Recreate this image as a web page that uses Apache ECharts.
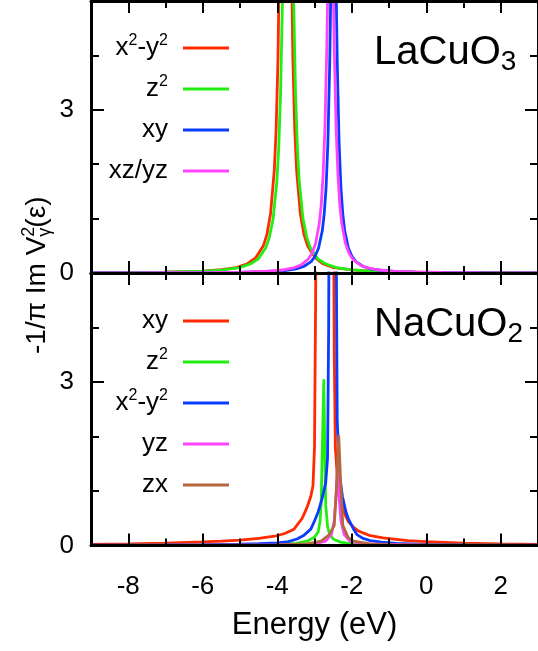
<!DOCTYPE html>
<html>
<head>
<meta charset="utf-8">
<script src="https://cdn.jsdelivr.net/npm/echarts@6/dist/echarts.min.js"></script>
<style>
  html, body { margin: 0; padding: 0; background: #ffffff; }
  #chart { width: 538px; height: 651px; }
</style>
</head>
<body>
<div id="chart"></div>
<script>
// Hybridization spectra -1/pi Im V^2(e) per d orbital, two compounds stacked.
const FONT = '"Liberation Sans", Arial, Helvetica, sans-serif';

// Tick positions (eV and spectral weight)
const xMajorTicks = [-8, -6, -4, -2, 0, 2];
const xMinorTicks = [-7, -5, -3, -1, 1];
const yMajorTicks = [0, 3];
const yMinorTicks = [1, 2, 4];

// LaCuO3 panel: [energy (eV), value]
const laX2y2 = [[-9,0.007],[-8,0.01],[-7,0.017],[-6,0.036],[-5.5,0.06],[-5.1,0.1],[-4.8,0.17],[-4.58,0.28],[-4.38,0.49],[-4.28,0.7],[-4.18,1.09],[-4.08,1.88],[-4.03,2.64],[-3.98,3.95],[-3.93,6.4],[-3.88,11.5],[-3.83,22.2],[-3.78,32],[-3.73,22.2],[-3.68,11.5],[-3.63,6.4],[-3.58,3.95],[-3.53,2.64],[-3.48,1.88],[-3.38,1.09],[-3.28,0.7],[-3.18,0.49],[-2.98,0.28],[-2.78,0.17],[-2.48,0.1],[-2,0.056],[-1.5,0.034],[-1,0.023],[0,0.012],[1,0.008],[2,0.005],[3,0.004]];
const laZ2 = [[-9,0.006],[-8,0.009],[-7,0.016],[-6,0.033],[-5.5,0.053],[-5.01,0.1],[-4.71,0.17],[-4.51,0.26],[-4.31,0.46],[-4.21,0.66],[-4.11,1.0],[-4.01,1.69],[-3.96,2.31],[-3.91,3.32],[-3.86,5.02],[-3.81,7.91],[-3.76,12.1],[-3.71,14.7],[-3.66,12.1],[-3.61,7.91],[-3.56,5.02],[-3.51,3.32],[-3.46,2.31],[-3.41,1.69],[-3.31,1.0],[-3.21,0.66],[-3.11,0.46],[-2.91,0.26],[-2.71,0.17],[-2.41,0.1],[-2,0.058],[-1.5,0.035],[-1,0.023],[0,0.012],[1,0.008],[2,0.005],[3,0.004]];
const laXy = [[-9,0.002],[-8,0.003],[-7,0.004],[-6,0.006],[-5,0.012],[-4.19,0.027],[-3.79,0.046],[-3.49,0.077],[-3.29,0.12],[-3.09,0.21],[-2.99,0.3],[-2.89,0.46],[-2.79,0.78],[-2.74,1.08],[-2.69,1.56],[-2.64,2.4],[-2.59,3.9],[-2.54,6.24],[-2.49,7.8],[-2.44,6.24],[-2.39,3.9],[-2.34,2.4],[-2.29,1.56],[-2.24,1.08],[-2.19,0.78],[-2.09,0.46],[-1.99,0.3],[-1.89,0.21],[-1.69,0.12],[-1.49,0.077],[-1.19,0.046],[-0.79,0.027],[-0.29,0.016],[0.51,0.009],[1.51,0.005],[3,0.003]];
const laXzYz = [[-9,0.002],[-8,0.003],[-7,0.005],[-6,0.008],[-5,0.016],[-4.27,0.033],[-3.87,0.055],[-3.57,0.093],[-3.37,0.144],[-3.17,0.253],[-3.07,0.358],[-2.97,0.545],[-2.87,0.917],[-2.82,1.25],[-2.77,1.79],[-2.72,2.67],[-2.67,4.14],[-2.62,6.17],[-2.57,7.38],[-2.52,6.17],[-2.47,4.14],[-2.42,2.67],[-2.37,1.79],[-2.32,1.25],[-2.27,0.917],[-2.17,0.545],[-2.07,0.358],[-1.97,0.253],[-1.77,0.144],[-1.57,0.093],[-1.27,0.055],[-0.87,0.033],[-0.37,0.019],[0.43,0.011],[1.43,0.006],[3,0.003]];

// NaCuO2 panel: [energy (eV), value]
const naXy = [[-9,0.02],[-8,0.03],[-7,0.045],[-6,0.065],[-5.5,0.08],[-5,0.1],[-4.5,0.13],[-4.07,0.17],[-3.8,0.22],[-3.55,0.3],[-3.33,0.5],[-3.2,0.7],[-3.1,0.9],[-3.04,1.1],[-3.0,1.8],[-2.97,4.5],[-2.94,9],[-2.85,12],[-2.7,12],[-2.55,12],[-2.5,8],[-2.47,3.5],[-2.44,1.8],[-2.38,1.2],[-2.3,0.85],[-2.22,0.62],[-2.1,0.45],[-1.95,0.33],[-1.8,0.26],[-1.5,0.18],[-1.16,0.14],[-0.5,0.09],[0,0.07],[1,0.045],[2,0.03],[3,0.02]];
const naZ2 = [[-9,0.002],[-5,0.01],[-4,0.02],[-3.5,0.04],[-3.2,0.08],[-3.0,0.15],[-2.9,0.25],[-2.85,0.45],[-2.82,0.8],[-2.75,3.05],[-2.7,0.75],[-2.65,0.35],[-2.6,0.22],[-2.5,0.12],[-2.3,0.06],[-2,0.03],[-1,0.01],[3,0.002]];
const naX2y2 = [[-9,0.005],[-7,0.01],[-6,0.015],[-5,0.025],[-4.5,0.035],[-4,0.05],[-3.7,0.07],[-3.47,0.12],[-3.28,0.19],[-3.1,0.3],[-3.0,0.45],[-2.9,0.62],[-2.8,0.85],[-2.7,1.15],[-2.65,1.6],[-2.62,4],[-2.6,8],[-2.5,10],[-2.42,6],[-2.39,2.3],[-2.33,1.3],[-2.25,0.9],[-2.15,0.6],[-2.09,0.49],[-1.95,0.3],[-1.86,0.2],[-1.7,0.13],[-1.5,0.09],[-1.2,0.06],[-0.8,0.04],[0,0.02],[1,0.012],[3,0.006]];
const naYz = [[-9,0.001],[-4,0.01],[-3,0.03],[-2.7,0.08],[-2.55,0.2],[-2.47,0.45],[-2.42,0.9],[-2.38,1.5],[-2.34,0.9],[-2.29,0.45],[-2.2,0.2],[-2.05,0.08],[-1.7,0.03],[0,0.005],[3,0.001]];
const naZx = [[-9,0.002],[-4,0.01],[-3.2,0.03],[-2.82,0.08],[-2.6,0.2],[-2.47,0.37],[-2.4,1.2],[-2.35,2.02],[-2.3,1.2],[-2.24,0.37],[-2.1,0.15],[-1.95,0.08],[-1.5,0.03],[-1,0.015],[3,0.002]];

const RED = '#ff2a00', GREEN = '#22ee11', BLUE = '#0a3cff', MAGENTA = '#ff44ff', BROWN = '#b5683f';

const orbitalLabels = {
  'x2-y2': 'x{sup|2}-y{sup|2}',
  'z2': 'z{sup|2}',
  'xy': 'xy',
  'xz/yz': 'xz/yz',
  'yz': 'yz',
  'zx': 'zx'
};

function xAxesFor(gi, withLabels) {
  const base = { type: 'value', gridIndex: gi, min: -9, max: 3, splitLine: { show: false }, z: 5 };
  const line = { show: true, onZero: false, lineStyle: { color: '#000', width: 3 } };
  const noLine = { show: false, onZero: false };
  const tick = (vals, len) => ({ show: true, inside: true, length: len, customValues: vals, lineStyle: { color: '#000', width: 2 } });
  const main = Object.assign({}, base, {
    position: 'bottom', axisLine: line, axisTick: tick(xMajorTicks, 12),
    axisLabel: withLabels
      ? { show: true, customValues: xMajorTicks, fontSize: 26, color: '#000', fontFamily: FONT, margin: 28 }
      : { show: false }
  });
  if (withLabels) {
    Object.assign(main, {
      name: 'Energy (eV)', nameLocation: 'middle', nameGap: 64,
      nameTextStyle: { fontSize: 31, color: '#000', fontFamily: FONT }
    });
  }
  return [
    main,
    Object.assign({}, base, { position: 'bottom', axisLine: noLine, axisTick: tick(xMinorTicks, 7), axisLabel: { show: false } }),
    Object.assign({}, base, { position: 'top', axisLine: line, axisTick: tick(xMajorTicks, 12), axisLabel: { show: false } }),
    Object.assign({}, base, { position: 'top', axisLine: noLine, axisTick: tick(xMinorTicks, 7), axisLabel: { show: false } })
  ];
}

function yAxesFor(gi) {
  const base = { type: 'value', gridIndex: gi, min: 0, max: 5, splitLine: { show: false }, z: 5 };
  const line = { show: true, onZero: false, lineStyle: { color: '#000', width: 3 } };
  const noLine = { show: false, onZero: false };
  const tick = (vals, len) => ({ show: true, inside: true, length: len, customValues: vals, lineStyle: { color: '#000', width: 2 } });
  return [
    Object.assign({}, base, {
      position: 'left', axisLine: line, axisTick: tick(yMajorTicks, 13),
      axisLabel: { show: true, customValues: yMajorTicks, fontSize: 26, color: '#000', fontFamily: FONT, margin: 17 }
    }),
    Object.assign({}, base, { position: 'left', axisLine: noLine, axisTick: tick(yMinorTicks, 8), axisLabel: { show: false } }),
    Object.assign({}, base, { position: 'right', axisLine: line, axisTick: tick(yMajorTicks, 13), axisLabel: { show: false } }),
    Object.assign({}, base, { position: 'right', axisLine: noLine, axisTick: tick(yMinorTicks, 8), axisLabel: { show: false } })
  ];
}

function curve(name, data, color, gi) {
  return {
    type: 'line', name, data, xAxisIndex: gi * 4, yAxisIndex: gi * 4,
    symbol: 'none', showSymbol: false, clip: true, silent: true, z: 2,
    lineStyle: { color, width: 2.8 }, itemStyle: { color }
  };
}

function legendFor(names, top) {
  return {
    data: names, orient: 'vertical', align: 'right', right: 309, top,
    padding: 0, itemWidth: 46, itemHeight: 3, itemGap: 11, icon: 'rect',
    selectedMode: false,
    formatter: n => orbitalLabels[n.split(' ')[1]],
    textStyle: {
      fontSize: 26, color: '#000', fontFamily: FONT, lineHeight: 30, padding: [0, 10, 0, 0],
      rich: { sup: { fontSize: 16, lineHeight: 8, verticalAlign: 'top', fontFamily: FONT, color: '#000' } }
    }
  };
}

const chart = echarts.init(document.getElementById('chart'), null, { renderer: 'canvas' });
chart.setOption({
  animation: false,
  backgroundColor: '#ffffff',
  grid: [
    { left: 91, top: 1, width: 454, height: 272 },
    { left: 91, top: 273, width: 454, height: 272.5 }
  ],
  xAxis: xAxesFor(0, false).concat(xAxesFor(1, true)),
  yAxis: yAxesFor(0).concat(yAxesFor(1)),
  legend: [
    legendFor(['La x2-y2', 'La z2', 'La xy', 'La xz/yz'], 33),
    legendFor(['Na xy', 'Na z2', 'Na x2-y2', 'Na yz', 'Na zx'], 306)
  ],
  series: [
    curve('La x2-y2', laX2y2, RED, 0),
    curve('La z2', laZ2, GREEN, 0),
    curve('La xy', laXy, BLUE, 0),
    curve('La xz/yz', laXzYz, MAGENTA, 0),
    curve('Na xy', naXy, RED, 1),
    curve('Na z2', naZ2, GREEN, 1),
    curve('Na x2-y2', naX2y2, BLUE, 1),
    curve('Na yz', naYz, MAGENTA, 1),
    curve('Na zx', naZx, BROWN, 1)
  ],
  graphic: [
    {
      type: 'text', x: 374, y: 53, z: 10,
      style: {
        text: 'LaCuO{sub|3}', fill: '#000', fontSize: 40, fontFamily: FONT,
        align: 'left', verticalAlign: 'middle', lineHeight: 46,
        rich: { sub: { fontSize: 28, lineHeight: 16, verticalAlign: 'bottom', fontFamily: FONT, fill: '#000' } }
      }
    },
    {
      type: 'text', x: 374, y: 325, z: 10,
      style: {
        text: 'NaCuO{sub|2}', fill: '#000', fontSize: 40, fontFamily: FONT,
        align: 'left', verticalAlign: 'middle', lineHeight: 46,
        rich: { sub: { fontSize: 28, lineHeight: 16, verticalAlign: 'bottom', fontFamily: FONT, fill: '#000' } }
      }
    },
    {
      // axis title, written bottom-to-top; the superscript 2 sits over the subscript gamma
      type: 'text', x: 37, y: 354, rotation: Math.PI / 2, z: 10,
      style: {
        text: '-1/π Im V{sup|2}{sub|γ}(ε)', fill: '#000', fontSize: 28, fontFamily: FONT,
        align: 'left', verticalAlign: 'middle', lineHeight: 34,
        rich: {
          sup: { fontSize: 18, lineHeight: 12, verticalAlign: 'top', align: 'left', width: 0, fontFamily: FONT, fill: '#000' },
          sub: { fontSize: 18, lineHeight: 14, verticalAlign: 'bottom', align: 'left', fontFamily: FONT, fill: '#000' }
        }
      }
    }
  ]
});
</script>
</body>
</html>
